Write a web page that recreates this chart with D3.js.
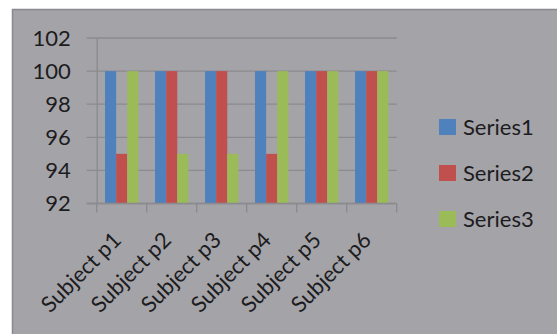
<!DOCTYPE html>
<html>
<head>
<meta charset="utf-8">
<script src="https://cdn.jsdelivr.net/npm/d3@7"></script>
<style>
  html, body { margin: 0; padding: 0; background: #ffffff; }
  svg { display: block; }
  text { font-family: Lato, "Open Sans", sans-serif; fill: #1c1c1e; }
</style>
</head>
<body>
<svg id="chart" width="557" height="334"></svg>
<script>
// Chart data
const categories = ["Subject p1", "Subject p2", "Subject p3", "Subject p4", "Subject p5", "Subject p6"];
const seriesNames = ["Series1", "Series2", "Series3"];
const series1 = [100, 100, 100, 100, 100, 100];
const series2 = [95, 100, 100, 95, 100, 100];
const series3 = [100, 95, 95, 100, 100, 100];
const yTicks = [92, 94, 96, 98, 100, 102];
const seriesColors = ["#4f81bd", "#c0504d", "#9bbb59"];

const seriesValues = [series1, series2, series3];

const svg = d3.select("#chart");
const W = 557, H = 334;

// Grey chart panel with a darker top/left edge
svg.append("rect").attr("x", 12).attr("y", 9).attr("width", W - 12).attr("height", H - 9)
  .attr("fill", "#a4a3a8");
svg.append("path").attr("d", `M12.5,${H} V9.5 H${W}`)
  .attr("fill", "none").attr("stroke", "#8a898d").attr("stroke-width", 1.5);

const plot = { left: 96.7, right: 396.7, top: 38, bottom: 203.5 };

const x = d3.scaleBand().domain(categories).range([plot.left, plot.right]).paddingInner(0).paddingOuter(0);
// Gap between clusters equals 1.5 bar widths
const xInner = d3.scaleBand().domain(seriesNames)
  .range([x.bandwidth() * (0.75 / 4.5), x.bandwidth() * (1 - 0.75 / 4.5)]);
const y = d3.scaleLinear().domain([92, 102]).range([plot.bottom, plot.top]);

const gridColor = "#8b8a8e";

// Horizontal gridlines (extend left as tick marks)
svg.append("g").selectAll("line").data(yTicks).join("line")
  .attr("x1", plot.left - 10).attr("x2", plot.right)
  .attr("y1", d => y(d)).attr("y2", d => y(d))
  .attr("stroke", gridColor).attr("stroke-width", 1.3);

// Value axis
const yAxis = svg.append("g").attr("transform", `translate(${plot.left},0)`)
  .call(d3.axisLeft(y).tickValues(yTicks).tickSize(0).tickPadding(26));
yAxis.select(".domain").attr("stroke", gridColor).attr("stroke-width", 1.3);
yAxis.selectAll("text").style("font-size", "22px").attr("fill", "#1c1c1e");

// Bars
const groups = svg.append("g").selectAll("g").data(categories).join("g")
  .attr("transform", d => `translate(${x(d)},0)`);
groups.selectAll("rect")
  .data((c, i) => seriesNames.map((s, k) => ({ s, k, v: seriesValues[k][i] })))
  .join("rect")
  .attr("x", d => xInner(d.s))
  .attr("width", xInner.bandwidth())
  .attr("y", d => y(d.v))
  .attr("height", d => y(92) - y(d.v))
  .attr("fill", d => seriesColors[d.k]);

// Category axis with ticks between clusters
const xAxisG = svg.append("g").attr("transform", `translate(0,${plot.bottom})`);
xAxisG.append("line").attr("x1", plot.left - 10).attr("x2", plot.right)
  .attr("stroke", gridColor).attr("stroke-width", 1.3);
const boundaries = categories.map(c => x(c)).concat([plot.right]);
xAxisG.selectAll("line.tick").data(boundaries).join("line").attr("class", "tick")
  .attr("x1", d => d).attr("x2", d => d).attr("y1", 0).attr("y2", 9)
  .attr("stroke", gridColor).attr("stroke-width", 1.3);
xAxisG.selectAll("text").data(categories).join("text")
  .attr("transform", d => `translate(${x(d) + x.bandwidth() / 2 - 10},${27}) rotate(-45)`)
  .attr("text-anchor", "end")
  .attr("dy", "0.7em")
  .style("font-size", "22px")
  .text(d => d);

// Legend
const legend = svg.append("g").selectAll("g").data(seriesNames).join("g")
  .attr("transform", (d, i) => `translate(439,${127 + i * 46})`);
legend.append("rect").attr("x", 0).attr("y", -8).attr("width", 17).attr("height", 16)
  .attr("fill", (d, i) => seriesColors[i]);
legend.append("text").attr("x", 24).attr("y", 0).attr("dy", "0.36em")
  .style("font-size", "22px").text(d => d);
</script>
</body>
</html>
